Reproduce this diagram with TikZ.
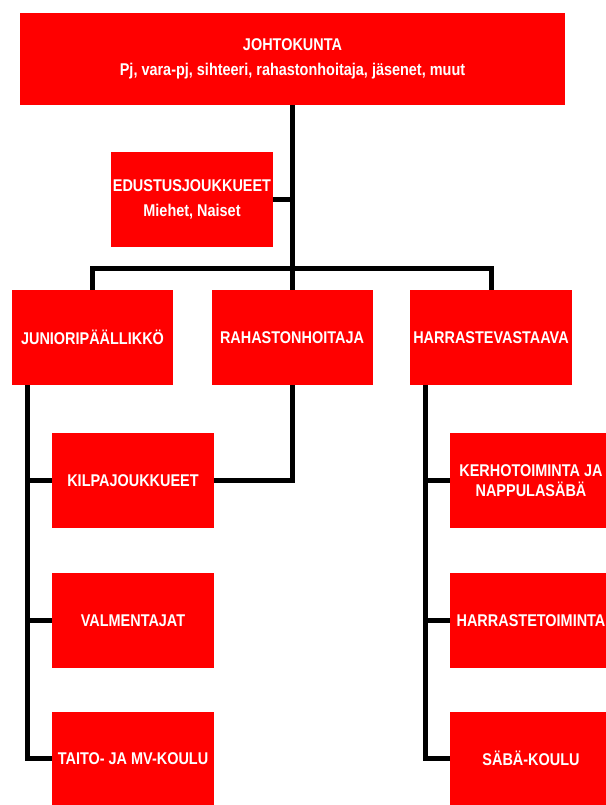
\documentclass[tikz,border=0pt]{standalone}
\usepackage{fontspec}
\setmainfont{Liberation Sans}[FakeStretch=0.85]
\usetikzlibrary{calc}

\begin{document}
\begin{tikzpicture}[x=1pt, y=-1pt,
            box/.style={fill=red, text=white, align=center, inner sep=0pt,
                minimum width=162pt, minimum height=95pt,
                font=\fontsize{17}{20}\selectfont\bfseries},
            conn/.style={line width=5pt, black},
        ]
        \useasboundingbox (0,0) rectangle (605,805);

        \node[box, minimum width=545pt, minimum height=92pt] (johto) at (292.5, 59)
            {JOHTOKUNTA\\[5pt]Pj, vara-pj, sihteeri, rahastonhoitaja, jäsenet, muut};
        \node[box] (edus) at (192, 199.5) {EDUSTUSJOUKKUEET\\[5pt]Miehet, Naiset};

        \node[box, minimum width=161pt] (junior) at (92.5, 337.5) {JUNIORIPÄÄLLIKKÖ};
        \node[box, minimum width=161pt] (rahasto) at (292, 337.5) {RAHASTONHOITAJA};
        \node[box] (harraste) at (491, 337.5) {HARRASTEVASTAAVA};

        \node[box] (kilpa) at (133, 480.5) {KILPAJOUKKUEET};
        \node[box] (valm) at (133, 620.5) {VALMENTAJAT};
        \node[box, minimum height=93pt] (taito) at (133, 758.5) {TAITO- JA MV-KOULU};

        \node[box] (kerho) at (531, 480.5) {KERHOTOIMINTA JA\\NAPPULASÄBÄ};
        \node[box] (harrtoim) at (531, 620.5) {HARRASTETOIMINTA};
        \node[box, minimum height=93pt] (saba) at (531, 758.5) {SÄBÄ-KOULU};

        \coordinate (bus) at (292, 268);
        \coordinate (jrail) at (27, 400);
        \coordinate (hrail) at (425, 400);

        \draw[conn] (johto.south -| bus) -- (rahasto.north);
        \draw[conn] (johto.south -| bus) |- (edus.east);
        \draw[conn] (junior.north) |- (bus) -| (harraste.north);

        \draw[conn] (junior.south -| jrail) |- (taito.west);
        \foreach \n in {kilpa, valm} {
            \draw[conn] (\n.west -| jrail) -- (\n.west);
        }
        \draw[conn] (rahasto.south) |- (kilpa.east);

        \draw[conn] (harraste.south -| hrail) |- (saba.west);
        \foreach \n in {kerho, harrtoim} {
            \draw[conn] (\n.west -| hrail) -- (\n.west);
        }
    \end{tikzpicture}
\end{document}
